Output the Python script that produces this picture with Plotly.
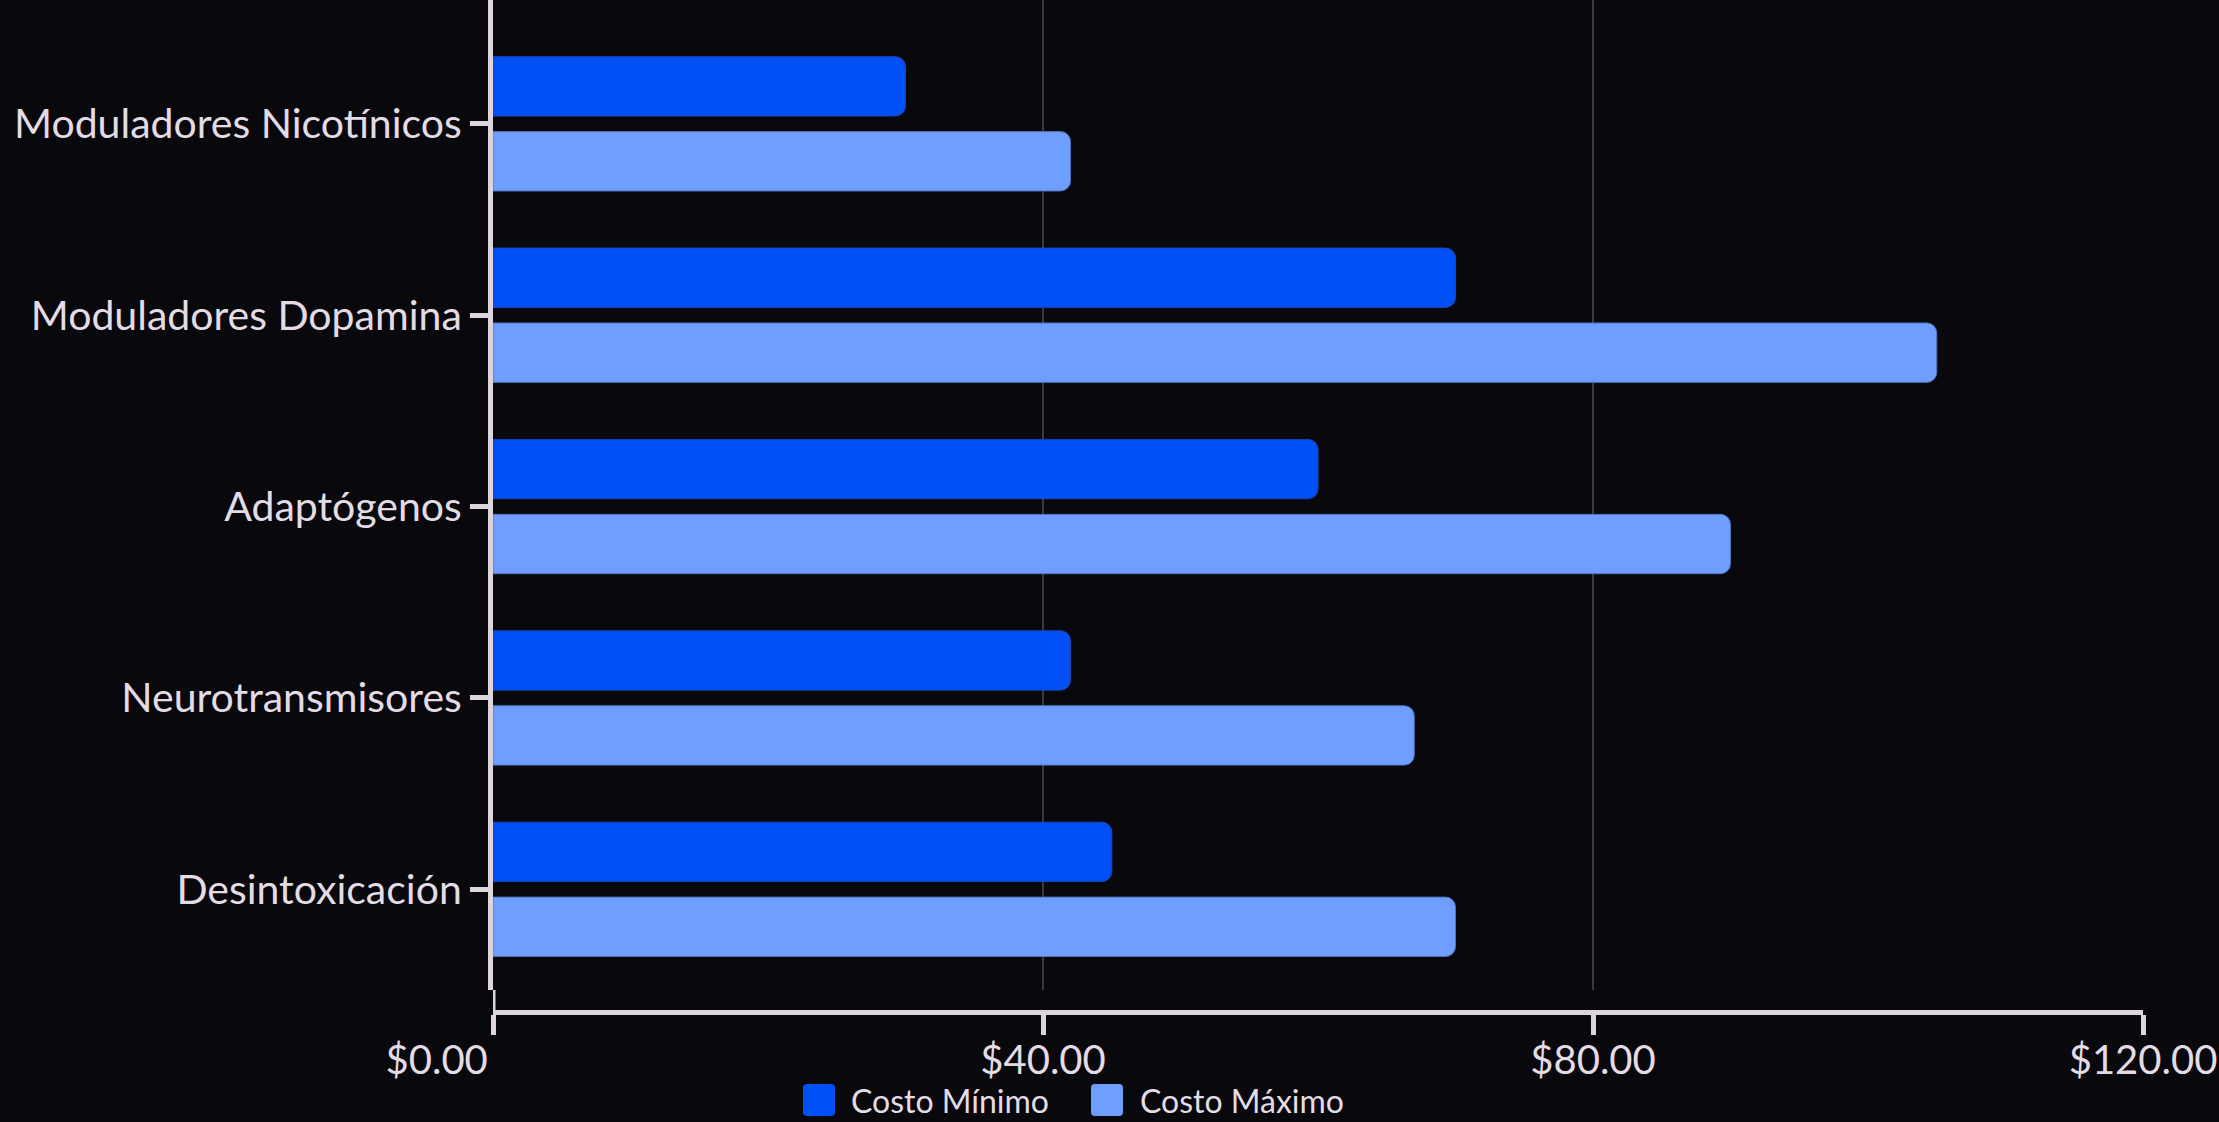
import plotly.graph_objects as go

categories = ["Moduladores Nicotínicos", "Moduladores Dopamina", "Adaptógenos",
              "Neurotransmisores", "Desintoxicación"]
costo_min = [30, 70, 60, 42, 45]
costo_max = [42, 105, 90, 67, 70]
series_names = ["Costo Mínimo", "Costo Máximo"]
x_tickvals = [0, 40, 80, 120]
x_ticktext = ["$0.00" + "\u00a0" * 11, "$40.00", "$80.00", "$120.00"]

BG = "#08080D"
AXIS = "#DDD4DC"
TEXT = "#E4DCE4"
GRID = "#3A3A40"
C_MIN = "#0050F5"
C_MAX = "#6E9EFF"
colors = [C_MIN, C_MAX]
FONT = "Lato, sans-serif"

W, H = 2219, 1122
ML, MR, MT, MB = 493, 76, 0, 110
plot_w = W - ML - MR
plot_h = H - MT - MB
d = 22 / plot_h


def px_x(p):
    return (p - ML) / plot_w


def px_y(p):
    return (MT + plot_h - p) / plot_h


fig = go.Figure()
for vals, name, col, lc in [(costo_min, series_names[0], C_MIN, "#1E44B0"),
                            (costo_max, series_names[1], C_MAX, "#5272B8")]:
    fig.add_trace(go.Bar(y=categories, x=vals, name=name, orientation="h",
                         showlegend=False,
                         marker=dict(color=col, cornerradius=10, line=dict(width=1, color=lc))))

# legend (swatches + labels)
shapes = [dict(type="line", xref="x", yref="paper", x0=0, x1=0, y0=0, y1=d,
               line=dict(color=AXIS, width=5), layer="above")]
annotations = []
leg_swatch_left = [803, 1091]
leg_text_left = [851, 1140]
leg_cy = 1100
r = 4
s = 16
rounded = (f"M{-s + r},{-s} L{s - r},{-s} Q{s},{-s} {s},{-s + r} L{s},{s - r} Q{s},{s} {s - r},{s} "
           f"L{-s + r},{s} Q{-s},{s} {-s},{s - r} L{-s},{-s + r} Q{-s},{-s} {-s + r},{-s} Z")
for i, name in enumerate(series_names):
    shapes.append(dict(type="path", xref="paper", yref="paper",
                       xsizemode="pixel", ysizemode="pixel",
                       xanchor=px_x(leg_swatch_left[i] + s), yanchor=px_y(leg_cy),
                       path=rounded, fillcolor=colors[i], line=dict(width=0)))
    annotations.append(dict(text=name, xref="paper", yref="paper",
                            x=px_x(leg_text_left[i] - 2), y=px_y(leg_cy),
                            xanchor="left", yanchor="middle", showarrow=False,
                            font=dict(size=32, color=TEXT, family=FONT)))

fig.update_layout(
    width=W, height=H,
    margin=dict(l=ML, r=MR, t=MT, b=MB, pad=0, autoexpand=False),
    paper_bgcolor=BG, plot_bgcolor=BG,
    font=dict(family=FONT, color=TEXT, size=40),
    barmode="group", bargap=0.217, bargroupgap=0.2075,
    showlegend=False,
    xaxis=dict(range=[0, 120], tickvals=x_tickvals, ticktext=x_ticktext,
               anchor="free", position=0, automargin=False,
               showline=True, linecolor=AXIS, linewidth=5,
               ticks="outside", ticklen=20, tickwidth=5, tickcolor=AXIS,
               ticklabelstandoff=-9,
               showgrid=True, gridcolor=GRID, gridwidth=2, zeroline=False,
               tickfont=dict(size=40, color=TEXT, family=FONT)),
    yaxis=dict(domain=[d, 1], type="category", range=[4.526, -0.647], automargin=False,
               showline=True, linecolor=AXIS, linewidth=5,
               ticks="outside", ticklen=18, tickwidth=5, tickcolor=AXIS,
               showgrid=False, zeroline=False,
               tickfont=dict(size=41, color=TEXT, family=FONT)),
    shapes=shapes,
    annotations=annotations,
)

fig.write_html("out.html", config={"displayModeBar": False},
               post_script="document.body.style.margin='0';document.body.style.overflow='hidden';"
                           "document.body.style.background='#08080D';")
